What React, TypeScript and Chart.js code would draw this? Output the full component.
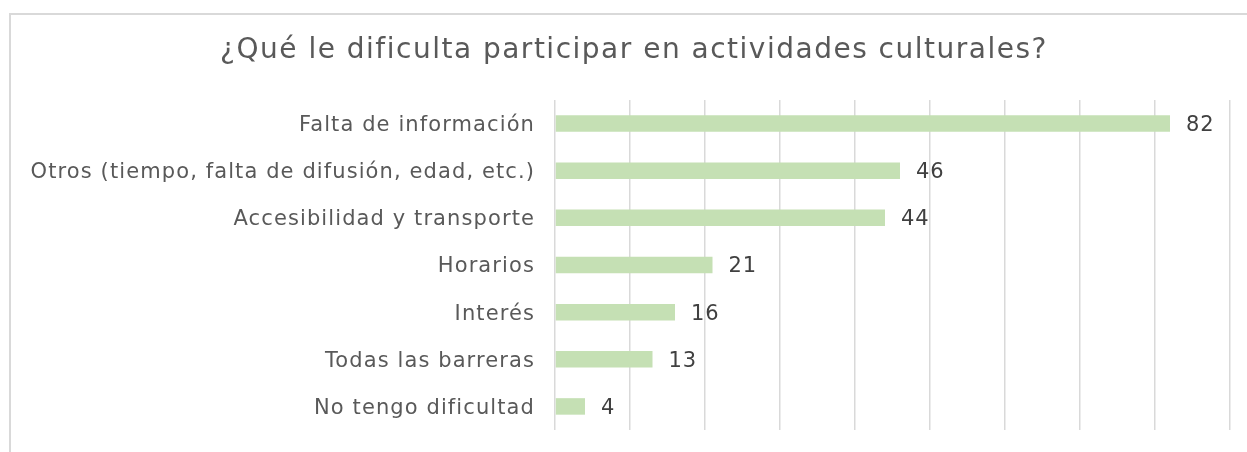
import React, { useEffect, useRef } from "react";
import { Chart, registerables } from "chart.js";

Chart.register(...registerables);

const TITLE = "¿Qué le dificulta participar en actividades culturales?";
const categories = [
  "Falta de información",
  "Otros (tiempo, falta de difusión, edad, etc.)",
  "Accesibilidad y transporte",
  "Horarios",
  "Interés",
  "Todas las barreras",
  "No tengo dificultad",
];
const values = [82, 46, 44, 21, 16, 13, 4];
const xMin = 0;
const xMax = 90;
const xStep = 10;

const FONT = "'DejaVu Sans', 'Noto Sans', sans-serif";

export default function App() {
  const ref = useRef<HTMLCanvasElement | null>(null);

  useEffect(() => {
    if (!ref.current) return;
    const spacingPlugin = {
      id: "spacing",
      beforeDraw(chart: any) {
        (chart.ctx as any).letterSpacing = "1.1px";
      },
    };
    const titlePlugin = {
      id: "customTitle",
      afterDraw(chart: any) {
        const ctx = chart.ctx;
        ctx.save();
        (ctx as any).letterSpacing = "1.5px";
        ctx.font = `28px ${FONT}`;
        ctx.fillStyle = "#595959";
        ctx.textAlign = "center";
        ctx.textBaseline = "middle";
        ctx.fillText(TITLE, 634, 51);
        ctx.restore();
      },
    };
    const valuePlugin = {
      id: "valueLabels",
      afterDatasetsDraw(chart: any) {
        const ctx = chart.ctx;
        const meta = chart.getDatasetMeta(0);
        ctx.save();
        (ctx as any).letterSpacing = "0.8px";
        ctx.font = `21px ${FONT}`;
        ctx.fillStyle = "#404040";
        ctx.textAlign = "left";
        ctx.textBaseline = "middle";
        meta.data.forEach((bar: any, i: number) => {
          ctx.fillText(String(values[i]), bar.x + 16, bar.y + 2);
        });
        ctx.restore();
      },
    };
    const chart = new Chart(ref.current, {
      type: "bar",
      data: {
        labels: categories,
        datasets: [
          {
            data: values,
            backgroundColor: "#C5E0B4",
            borderWidth: 0,
            barPercentage: 0.7,
            categoryPercentage: 0.5,
          },
        ],
      },
      options: {
        indexAxis: "y",
        responsive: false,
        maintainAspectRatio: false,
        animation: false,
        layout: { padding: { top: 100, bottom: 22, left: 0, right: 17 } },
        plugins: {
          legend: { display: false },
          title: { display: false },
          tooltip: { enabled: false },
        },
        scales: {
          x: {
            min: xMin,
            max: xMax,
            ticks: { display: false, stepSize: xStep },
            grid: { color: "#D9D9D9", lineWidth: 1.5, drawTicks: false },
            border: { display: false },
            afterFit(scale: any) {
              scale.height = 0;
              scale.paddingLeft = 0;
              scale.paddingRight = 0;
              scale.paddingTop = 0;
              scale.paddingBottom = 0;
            },
          },
          y: {
            grid: { display: false, drawTicks: false },
            border: { display: false },
            ticks: {
              padding: 20,
              labelOffset: 2,
              color: "#595959",
              font: { family: FONT, size: 21 },
            },
            afterFit(scale: any) {
              scale.width = 555;
              scale.paddingTop = 0;
              scale.paddingBottom = 0;
            },
          },
        },
      },
      plugins: [spacingPlugin, titlePlugin, valuePlugin],
    });
    return () => chart.destroy();
  }, []);

  return (
    <div
      style={{
        position: "fixed",
        left: 0,
        top: 0,
        width: 1247,
        height: 452,
        overflow: "hidden",
        background: "#ffffff",
      }}
    >
      <div
        style={{
          position: "absolute",
          left: 9,
          top: 13,
          width: 1300,
          height: 500,
          border: "2px solid #D9D9D9",
          boxSizing: "border-box",
        }}
      />
      <canvas
        ref={ref}
        width={1247}
        height={452}
        style={{ position: "absolute", left: 0, top: 0, width: 1247, height: 452 }}
      />
    </div>
  );
}
